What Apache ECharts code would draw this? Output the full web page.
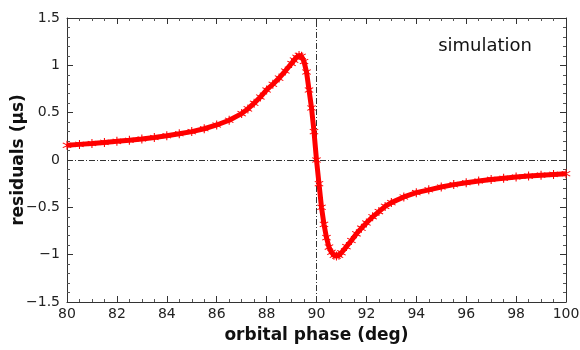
<!DOCTYPE html>
<html><head><meta charset="utf-8">
<script src="https://cdn.jsdelivr.net/npm/echarts@6/dist/echarts.min.js"></script>
<style>html,body{margin:0;padding:0;background:#fff}#c{width:580px;height:350px}</style>
</head><body><div id="c"></div>
<script>
const phase = [80,80.5,81,81.5,82,82.5,83,83.5,84,84.5,85,85.5,86,86.5,87,87.25,87.5,87.75,88,88.25,88.5,88.75,89,89.1,89.2,89.3,89.4,89.5,89.6,89.7,89.8,89.9,90,90.1,90.2,90.3,90.4,90.5,90.6,90.7,90.8,90.9,91,91.2,91.4,91.6,91.8,92,92.25,92.5,92.75,93,93.5,94,94.5,95,95.5,96,96.5,97,97.5,98,98.5,99,99.5,100];
const residuals = [0.155,0.165,0.175,0.186,0.197,0.209,0.222,0.238,0.256,0.277,0.300,0.330,0.370,0.420,0.490,0.540,0.600,0.665,0.740,0.800,0.865,0.940,1.020,1.055,1.085,1.105,1.095,1.040,0.930,0.740,0.550,0.300,0.0,-0.250,-0.500,-0.680,-0.820,-0.920,-0.975,-1.005,-1.015,-1.005,-0.980,-0.915,-0.850,-0.780,-0.720,-0.665,-0.600,-0.545,-0.490,-0.450,-0.390,-0.345,-0.315,-0.285,-0.260,-0.240,-0.222,-0.205,-0.192,-0.180,-0.170,-0.160,-0.152,-0.145];
const xTicks = [80,82,84,86,88,90,92,94,96,98,100];
const yTicks = [-1.5,-1,-0.5,0,0.5,1,1.5];

const data = phase.map((p,i)=>[p,residuals[i]]);
const star = 'path://M9,0H11V7.6L17.5,3.8L18.5,5.5L12,9.3V10.7L18.5,14.5L17.5,16.2L11,12.4V20H9V12.4L2.5,16.2L1.5,14.5L8,10.7V9.3L1.5,5.5L2.5,3.8L9,7.6Z';
const font = 'DejaVu Sans';
const line = {show:true,onZero:false,lineStyle:{color:'#333',width:1}};
const tick = {inside:true,length:6,lineStyle:{color:'#333'}};
const chart = echarts.init(document.getElementById('c'));
chart.setOption({
  animation:false,
  grid:{left:67,right:14,top:18,bottom:48,outerBoundsMode:'none',containLabel:false},
  xAxis:[
    {type:'value',min:xTicks[0],max:xTicks[xTicks.length-1],interval:2,position:'bottom',
      name:'orbital phase (deg)',nameLocation:'middle',nameGap:25,nameMoveOverlap:false,
      nameTextStyle:{fontFamily:font,fontWeight:'bold',fontSize:17,color:'#111'},
      axisLabel:{fontFamily:font,fontSize:14,color:'#222',margin:5},
      axisLine:line,axisTick:tick,splitLine:{show:false},
      minorTick:{show:true,splitNumber:4,length:3,lineStyle:{color:'#555'}}},
    {type:'value',min:xTicks[0],max:xTicks[xTicks.length-1],interval:2,position:'top',
      axisLabel:{show:false},axisLine:line,axisTick:tick,splitLine:{show:false},
      minorTick:{show:true,splitNumber:4,length:3,lineStyle:{color:'#555'}}}
  ],
  yAxis:[
    {type:'value',min:yTicks[0],max:yTicks[yTicks.length-1],interval:0.5,position:'left',
      name:'residuals (μs)',nameLocation:'middle',nameGap:40,nameMoveOverlap:false,
      nameTextStyle:{fontFamily:font,fontWeight:'bold',fontSize:17,color:'#111'},
      axisLabel:{fontFamily:font,fontSize:14,color:'#222',margin:7,formatter:v=>String(v).replace('-','\u2212')},
      axisLine:line,axisTick:tick,splitLine:{show:false},
      minorTick:{show:true,splitNumber:5,length:3,lineStyle:{color:'#555'}}},
    {type:'value',min:yTicks[0],max:yTicks[yTicks.length-1],interval:0.5,position:'right',
      axisLabel:{show:false},axisLine:line,axisTick:tick,splitLine:{show:false},
      minorTick:{show:true,splitNumber:5,length:3,lineStyle:{color:'#555'}}}
  ],
  graphic:[{type:'text',right:48,top:37,style:{text:'simulation',font:'18px "DejaVu Sans"',fill:'#111'}}],
  series:[{
    type:'line',data:data,xAxisIndex:0,yAxisIndex:0,
    symbol:star,symbolSize:9,showAllSymbol:true,
    itemStyle:{color:'#ff0000'},
    lineStyle:{color:'#ff0000',width:5},
    z:3,
    markLine:{silent:true,symbol:'none',label:{show:false},
      lineStyle:{color:'#333',type:[6,2,1,2],width:1},
      data:[{yAxis:0},{xAxis:90}],z:2}
  }]
});
</script></body></html>
